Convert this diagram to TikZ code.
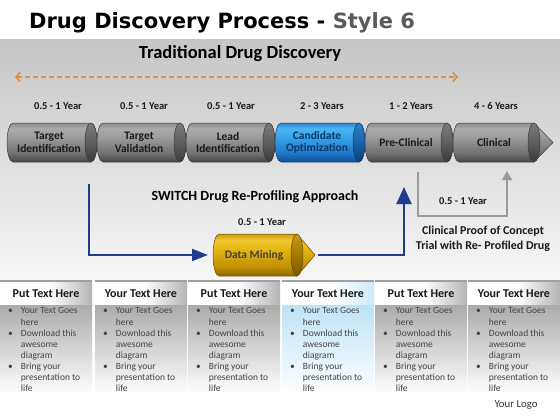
\documentclass[tikz,border=0pt]{standalone}
\usepackage{fontspec}
\setmainfont{Carlito}
\newfontfamily\titlefont{DejaVu Sans}
\usetikzlibrary{arrows.meta}

\definecolor{bandtop}{HTML}{C6C6C6}
\definecolor{bandbot}{HTML}{F7F7F7}
\definecolor{stylegray}{HTML}{5A5A5A}
\definecolor{orangec}{HTML}{E88A3C}
\definecolor{blueline}{HTML}{1F3C8F}
\definecolor{grayline}{HTML}{9A9A9A}
% gray cylinder
\definecolor{gA}{HTML}{454545}\definecolor{gB}{HTML}{707070}\definecolor{gC}{HTML}{9E9E9E}\definecolor{gC2}{HTML}{ABABAB}\definecolor{gD}{HTML}{8C8C8C}
\definecolor{gfA}{HTML}{3A3A3A}\definecolor{gfB}{HTML}{5E5E5E}\definecolor{gfC}{HTML}{7C7C7C}
\definecolor{gedge}{HTML}{3C3C3C}
% blue cylinder
\definecolor{bA}{HTML}{0D4F8F}\definecolor{bB}{HTML}{1E78C8}\definecolor{bC}{HTML}{3AA4EA}\definecolor{bC2}{HTML}{4CB4F2}\definecolor{bD}{HTML}{2A88D0}
\definecolor{bfA}{HTML}{0A3F78}\definecolor{bfB}{HTML}{1B63A8}\definecolor{bfC}{HTML}{2C80C8}
\definecolor{bedge}{HTML}{0B3C70}
% gold cylinder
\definecolor{yA}{HTML}{8C6500}\definecolor{yB}{HTML}{C09000}\definecolor{yC}{HTML}{E8B818}\definecolor{yC2}{HTML}{F2C832}\definecolor{yD}{HTML}{C89A08}
\definecolor{yfA}{HTML}{7A5800}\definecolor{yfB}{HTML}{A27A00}\definecolor{yfC}{HTML}{C89A10}
\definecolor{yedge}{HTML}{6A4C00}
% panels
\definecolor{hdrg}{HTML}{B4B4B4}
\definecolor{hdrb}{HTML}{CDE9F7}
\definecolor{bodyg}{HTML}{ABABAB}
\definecolor{bodyb}{HTML}{BDE3F6}
\definecolor{paneltop}{HTML}{A0A0A0}
\definecolor{bodytxt}{HTML}{444444}

\pgfdeclareverticalshading{cylgray}{100bp}{color(0bp)=(gA); color(25bp)=(gA); color(36bp)=(gB); color(58bp)=(gC); color(68bp)=(gC2); color(75bp)=(gD); color(100bp)=(gD)}
\pgfdeclareverticalshading{cylblue}{100bp}{color(0bp)=(bA); color(25bp)=(bA); color(36bp)=(bB); color(58bp)=(bC); color(68bp)=(bC2); color(75bp)=(bD); color(100bp)=(bD)}
\pgfdeclareverticalshading{cylgold}{100bp}{color(0bp)=(yA); color(25bp)=(yA); color(36bp)=(yB); color(58bp)=(yC); color(68bp)=(yC2); color(75bp)=(yD); color(100bp)=(yD)}
\pgfdeclareverticalshading{facegray}{100bp}{color(0bp)=(gfA); color(25bp)=(gfA); color(50bp)=(gfB); color(75bp)=(gfC); color(100bp)=(gfC)}
\pgfdeclareverticalshading{faceblue}{100bp}{color(0bp)=(bfA); color(25bp)=(bfA); color(50bp)=(bfB); color(75bp)=(bfC); color(100bp)=(bfC)}
\pgfdeclareverticalshading{facegold}{100bp}{color(0bp)=(yfA); color(25bp)=(yfA); color(50bp)=(yfB); color(75bp)=(yfC); color(100bp)=(yfC)}
\pgfdeclarehorizontalshading{hdrshg}{100bp}{color(0bp)=(white); color(25bp)=(white); color(52bp)=(white); color(75bp)=(hdrg); color(100bp)=(hdrg)}
\pgfdeclarehorizontalshading{hdrshb}{100bp}{color(0bp)=(white); color(25bp)=(white); color(52bp)=(white); color(75bp)=(hdrb); color(100bp)=(hdrb)}

\def\rx{6}
% cylinder: #1 xL, #2 face centre, #3 yc, #4 half height, #5 shading, #6 face shading, #7 edge
\newcommand\cylbody[7]{%
  \pgfmathsetmacro\cA{#1+\rx}\pgfmathsetmacro\cT{#3-#4}\pgfmathsetmacro\cD{#3+#4}%
  \pgfmathsetmacro\kx{0.5523*\rx}\pgfmathsetmacro\ky{0.5523*#4}%
  \pgfmathsetmacro\cR{#2+\rx}\pgfmathsetmacro\cRk{#2+\kx}\pgfmathsetmacro\cAk{#1+\rx-\kx}%
  \pgfmathsetmacro\yU{#3-\ky}\pgfmathsetmacro\yL{#3+\ky}%
  \shade[shading=#5, draw=#7, line width=.5pt] (\cA,\cT) -- (#2,\cT)
    .. controls (\cRk,\cT) and (\cR,\yU) .. (\cR,#3)
    .. controls (\cR,\yL) and (\cRk,\cD) .. (#2,\cD) -- (\cA,\cD)
    .. controls (\cAk,\cD) and (#1,\yL) .. (#1,#3)
    .. controls (#1,\yU) and (\cAk,\cT) .. (\cA,\cT) -- cycle;
  \shade[shading=#6, draw=#7, line width=.5pt] (#2,#3) ellipse[x radius=\rx, y radius=#4];
}
% arrow cylinder: #1 xL, #2 face centre, #3 tip, #4 yc, #5 h, #6 shading, #7 face, #8 edge
\newcommand\arrbody[8]{%
  \pgfmathsetmacro\cA{#1+\rx}\pgfmathsetmacro\cT{#4-#5}\pgfmathsetmacro\cD{#4+#5}%
  \pgfmathsetmacro\kx{0.5523*\rx}\pgfmathsetmacro\ky{0.5523*#5}%
  \pgfmathsetmacro\cAk{#1+\rx-\kx}%
  \pgfmathsetmacro\yU{#4-\ky}\pgfmathsetmacro\yL{#4+\ky}%
  \shade[shading=#6, draw=#8, line width=.5pt] (\cA,\cT) -- (#2,\cT) -- (#3,#4) -- (#2,\cD) -- (\cA,\cD)
    .. controls (\cAk,\cD) and (#1,\yL) .. (#1,#4)
    .. controls (#1,\yU) and (\cAk,\cT) .. (\cA,\cT) -- cycle;
  \shade[shading=#7, draw=#8, line width=.5pt] (#2,#4) ellipse[x radius=\rx, y radius=#5];
}
\newcommand\paneltext{\fontsize{9.5}{11.1}\selectfont\begin{tabular}{@{}l@{\hspace{8pt}}l@{}}%
\textbullet&Your Text Goes\\&here\\\textbullet&Download this\\&awesome\\&diagram\\%
\textbullet&Bring your\\&presentation to\\&life\end{tabular}}

\begin{document}
\begin{tikzpicture}[x=1pt,y=-1pt,
  yearlbl/.style={font=\bfseries\fontsize{10.5}{12}\selectfont, text=black!90, inner sep=0},
  cyllbl/.style={font=\bfseries\fontsize{11.5}{12.5}\selectfont, align=center, inner sep=0, text=black!90},
  bluecon/.style={draw=blueline, line width=2pt},
  graycon/.style={draw=grayline, line width=1.4pt},
  hdrlbl/.style={font=\bfseries\fontsize{12}{14}\selectfont, text=black!90, inner sep=0},
  bodylbl/.style={text=bodytxt, inner sep=0, anchor=north west}]
\useasboundingbox (0,0) rectangle (560,420);
\fill[white] (0,0) rectangle (560,420);
\shade[top color=bandtop, bottom color=bandbot] (0,40) rectangle (560,280);

% title
\node[anchor=base west, inner sep=0] (title) at (29,29)
  {\titlefont\bfseries\fontsize{21}{24}\selectfont Drug Discovery Process - \textcolor{stylegray}{Style 6}};
\node[font=\bfseries\fontsize{18.5}{21}\selectfont, inner sep=0] (trad) at (240,54) {Traditional Drug Discovery};

% orange span arrow
\coordinate (oa) at (15,77);
\coordinate (ob) at (458,77);
\draw[orangec, line width=1.6pt, dash pattern=on 5pt off 3pt,
  {Straight Barb[length=4pt,width=9pt]}-{Straight Barb[length=4pt,width=9pt]}] (oa) -- (ob);

% year labels
\node[yearlbl] (y1) at (58,106) {0.5 - 1 Year};
\node[yearlbl] (y2) at (144,106) {0.5 - 1 Year};
\node[yearlbl] (y3) at (231,106) {0.5 - 1 Year};
\node[yearlbl] (y4) at (322,106) {2 - 3 Years};
\node[yearlbl] (y5) at (411,106) {1 - 2 Years};
\node[yearlbl] (y6) at (496,106) {4 - 6 Years};

% cylinders
\cylbody{7}{91}{142.5}{19.5}{cylgray}{facegray}{gedge}
\cylbody{97}{180}{142.5}{19.5}{cylgray}{facegray}{gedge}
\cylbody{186}{269}{142.5}{19.5}{cylgray}{facegray}{gedge}
\cylbody{275}{359}{142.5}{19.5}{cylblue}{faceblue}{bedge}
\cylbody{365}{447}{142.5}{19.5}{cylgray}{facegray}{gedge}
\arrbody{453}{534}{553}{142.5}{19.5}{cylgray}{facegray}{gedge}

\node[cyllbl] (c1) at (49,142.5) {Target\\Identification};
\node[cyllbl] (c2) at (139,142.5) {Target\\Validation};
\node[cyllbl] (c3) at (228,142.5) {Lead\\Identification};
\node[cyllbl, text=bedge!90!black] (c4) at (317,142.5) {Candidate\\Optimization};
\node[cyllbl] (c5) at (406,142.5) {Pre-Clinical};
\node[cyllbl] (c6) at (494,142.5) {Clinical};

% switch approach
\node[font=\bfseries\fontsize{14}{16}\selectfont, inner sep=0] (switch) at (255,197) {SWITCH Drug Re-Profiling Approach};
\node[yearlbl] (y7) at (262,222) {0.5 - 1 Year};
\arrbody{213}{297}{315}{255}{21}{cylgold}{facegold}{yedge}
\node[cyllbl, text=black!85!yellow] (dm) at (254,255) {Data Mining};
\coordinate (dmW) at (213,255);
\coordinate (dmE) at (318,255);
\coordinate (b1) at (89,184);
\coordinate (b2) at (404,187);
\draw[bluecon, -{Triangle[length=16pt,width=12pt]}, shorten >=5pt] (b1) |- (dmW);
\draw[bluecon, -{Triangle[length=17pt,width=15pt]}] (dmE) -| (b2);

% gray connector
\coordinate (g1) at (418,172);
\coordinate (gc) at (418,216);
\coordinate (g2) at (507,171);
\draw[graycon, -{Triangle[length=9pt,width=10pt]}] (g1) -- (gc) -| (g2);
\node[yearlbl] (y8) at (463,201) {0.5 - 1 Year};
\node[font=\bfseries\fontsize{12}{14.5}\selectfont, align=center, inner sep=0, text=black!90] (proof) at (483,239)
  {Clinical Proof of Concept\\Trial with Re- Profiled Drug};

% panels
\foreach \px/\hd/\kd [count=\i] in {0/Put Text Here/g, 95/Your Text Here/g, 188/Put Text Here/g,
    282/Your Text Here/b, 375/Put Text Here/g, 468/Your Text Here/g}{
  \shade[shading=hdrsh\kd] (\px,281) rectangle ({\px+92},305);
  \shade[top color=body\kd, bottom color=white] (\px,305) rectangle ({\px+92},394);
  \draw[paneltop, line width=1.5pt] (\px,280.75) -- ({\px+92},280.75);
  \node[hdrlbl] (h\i) at ({\px+46},293.5) {\hd};
  \node[bodylbl] (t\i) at ({\px+8},306) {\paneltext};
}
\node[font=\fontsize{10.8}{13}\selectfont, text=black!80, inner sep=0] (logo) at (516,405) {Your Logo};
\end{tikzpicture}
\end{document}
